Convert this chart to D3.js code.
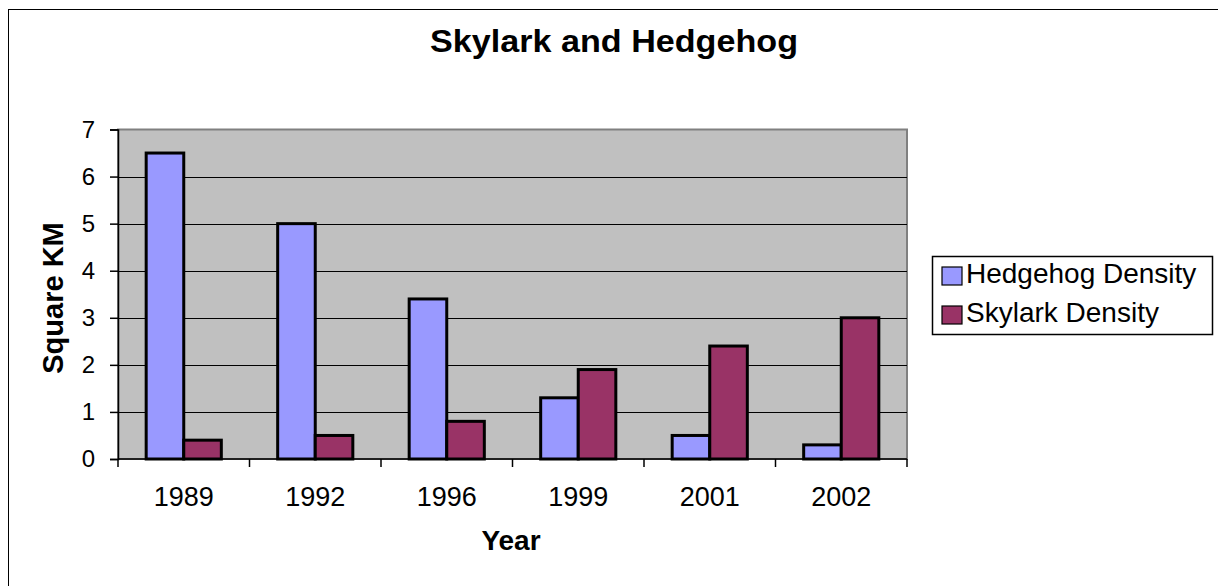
<!DOCTYPE html>
<html>
<head>
<meta charset="utf-8">
<script src="https://cdn.jsdelivr.net/npm/d3@7"></script>
<style>
  html, body { margin: 0; padding: 0; background: #fff; }
  svg { display: block; font-family: "Liberation Sans", Arial, sans-serif; }
</style>
</head>
<body>
<svg id="chart" width="1218" height="586"></svg>
<script>
// Survey years and densities (per square km)
const years = ["1989", "1992", "1996", "1999", "2001", "2002"];
const hedgehog = [6.5, 5.0, 3.4, 1.3, 0.5, 0.3];
const skylark = [0.4, 0.5, 0.8, 1.9, 2.4, 3.0];
const seriesNames = ["Hedgehog Density", "Skylark Density"];
const seriesColors = ["#9999ff", "#993366"];
const yTicks = [0, 1, 2, 3, 4, 5, 6, 7];

const svg = d3.select("#chart");
const W = 1218, H = 586;
const plot = { left: 118, top: 129.5, right: 907, bottom: 459 };
const FONT = "'Liberation Sans', Arial, sans-serif";

// Outer chart frame (extends past the right and bottom edges)
svg.append("rect")
  .attr("x", 8.5).attr("y", 9.5)
  .attr("width", W + 20).attr("height", H + 20)
  .attr("fill", "#fff").attr("stroke", "#000").attr("stroke-width", 1);

const x0 = d3.scaleBand().domain(years).range([plot.left, plot.right]).paddingInner(0).paddingOuter(0);
const y = d3.scaleLinear().domain([0, 7]).range([plot.bottom, plot.top]);

// Plot background
svg.append("rect")
  .attr("x", plot.left).attr("y", plot.top)
  .attr("width", plot.right - plot.left).attr("height", plot.bottom - plot.top)
  .attr("fill", "#c0c0c0").attr("stroke", "#808080").attr("stroke-width", 2);

// Gridlines
svg.append("g").selectAll("line")
  .data(yTicks.filter(d => d > 0 && d < 7))
  .join("line")
  .attr("x1", plot.left).attr("x2", plot.right)
  .attr("y1", d => Math.round(y(d)) + 0.5).attr("y2", d => Math.round(y(d)) + 0.5)
  .attr("stroke", "#000").attr("stroke-width", 1.2);

// Bars: bar width = band / (2 + gap 1.5)
const bw = x0.bandwidth() / 3.5;
const gapOff = bw * 0.75;
const rows = years.map((yr, i) => ({ yr, vals: [hedgehog[i], skylark[i]] }));
const groups = svg.append("g").selectAll("g")
  .data(rows).join("g")
  .attr("transform", d => `translate(${x0(d.yr) + gapOff},0)`);
groups.selectAll("rect")
  .data(d => d.vals.map((v, k) => ({ v, k })))
  .join("rect")
  .attr("x", d => d.k * bw)
  .attr("y", d => y(d.v))
  .attr("width", bw)
  .attr("height", d => y(0) - y(d.v))
  .attr("fill", d => seriesColors[d.k])
  .attr("stroke", "#000").attr("stroke-width", 3);

// Y axis
const yAxis = d3.axisLeft(y).tickValues(yTicks).tickSize(8).tickPadding(15).tickFormat(d3.format("d"));
const gy = svg.append("g").attr("transform", `translate(${plot.left},0)`).call(yAxis);
gy.select(".domain").attr("stroke", "#000").attr("stroke-width", 1.5);
gy.selectAll(".tick line").attr("stroke", "#000").attr("stroke-width", 1.5);
gy.selectAll(".tick text").attr("font-size", 24).attr("fill", "#000")
  .attr("font-family", FONT);

// X axis with tick marks at category boundaries
const gx = svg.append("g").attr("transform", `translate(0,${plot.bottom})`);
gx.append("line").attr("x1", plot.left).attr("x2", plot.right).attr("y1", 0).attr("y2", 0)
  .attr("stroke", "#000").attr("stroke-width", 1.5);
const bounds = years.map(yr => x0(yr)).concat([plot.right]);
gx.selectAll("line.tk").data(bounds).join("line").attr("class", "tk")
  .attr("x1", d => d).attr("x2", d => d).attr("y1", 0).attr("y2", 8)
  .attr("stroke", "#000").attr("stroke-width", 1.5);
gx.selectAll("text").data(years).join("text")
  .attr("x", d => x0(d) + x0.bandwidth() / 2)
  .attr("y", 47)
  .attr("text-anchor", "middle")
  .attr("font-size", 27)
  .text(d => d);

// Title and axis titles
svg.append("text").attr("x", 614).attr("y", 52).attr("text-anchor", "middle")
  .attr("font-size", 32).attr("font-weight", "bold")
  .attr("textLength", 368).attr("lengthAdjust", "spacingAndGlyphs")
  .text("Skylark and Hedgehog");
svg.append("text").attr("x", 511).attr("y", 550).attr("text-anchor", "middle")
  .attr("font-size", 28).attr("font-weight", "bold").text("Year");
svg.append("text").attr("transform", "translate(63,298) rotate(-90)").attr("text-anchor", "middle")
  .attr("font-size", 29).attr("font-weight", "bold").text("Square KM");

// Legend
const lg = svg.append("g");
lg.append("rect").attr("x", 932.5).attr("y", 256.5).attr("width", 280).attr("height", 78)
  .attr("fill", "#fff").attr("stroke", "#000").attr("stroke-width", 1.5);
const items = lg.selectAll("g").data(seriesNames).join("g")
  .attr("transform", (d, i) => `translate(0,${283 + i * 39})`);
items.append("rect").attr("x", 942).attr("y", -16).attr("width", 20).attr("height", 18)
  .attr("fill", (d, i) => seriesColors[i]).attr("stroke", "#000").attr("stroke-width", 1.2);
items.append("text").attr("x", 966).attr("y", 0)
  .attr("font-size", 28).text(d => d);
</script>
</body>
</html>
